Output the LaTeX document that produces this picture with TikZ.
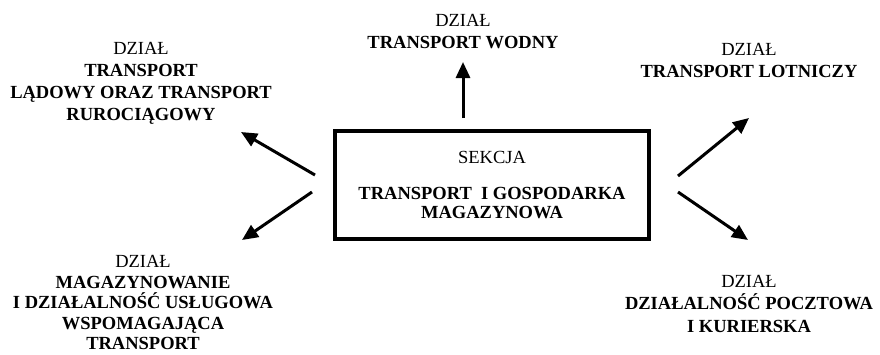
\documentclass[tikz,border=0pt]{standalone}
\usepackage{fontspec}
\setmainfont{Liberation Serif}
\usetikzlibrary{arrows.meta}

\begin{document}
\begin{tikzpicture}[
    x=1pt, y=-1pt,
    font=\fontsize{18.5}{22}\selectfont,
    sect/.style={draw=black, line width=4.5pt, minimum width=314pt,
                 minimum height=108pt, align=center, inner sep=0pt},
    dzial/.style={align=center, inner sep=0pt},
    branch/.style={-{Triangle[length=16pt,width=14pt]}, line width=3pt},
  ]
  \useasboundingbox (0,0) rectangle (880,354);

  % section in the middle
  \node[sect] (sekcja) at (492,185) {SEKCJA\\[14pt]\textbf{TRANSPORT\ \ I GOSPODARKA}\\[-3pt]\textbf{MAGAZYNOWA}};

  % divisions
  \node[dzial] (ladowy) at (141,83.5) {DZIAŁ\\\textbf{TRANSPORT}\\\textbf{LĄDOWY ORAZ TRANSPORT}\\\textbf{RUROCIĄGOWY}};
  \node[dzial] (wodny) at (463,32) {DZIAŁ\\\textbf{TRANSPORT WODNY}};
  \node[dzial] (lotniczy) at (749,60) {DZIAŁ\\\textbf{TRANSPORT LOTNICZY}};
  \node[dzial, font=\fontsize{18.5}{20.5}\selectfont] (magazyn) at (143,302.5) {DZIAŁ\\\textbf{MAGAZYNOWANIE}\\\textbf{I DZIAŁALNOŚĆ USŁUGOWA}\\\textbf{WSPOMAGAJĄCA}\\\textbf{TRANSPORT}};
  \node[dzial, font=\fontsize{18.5}{22.5}\selectfont] (poczta) at (749,303.5) {DZIAŁ\\\textbf{DZIAŁALNOŚĆ POCZTOWA}\\\textbf{I KURIERSKA}};

  % arrow ends
  \coordinate (up0) at (463,118);  \coordinate (up1) at (463,62);
  \coordinate (ul0) at (315,175);  \coordinate (ul1) at (241,132);
  \coordinate (dl0) at (312,192);  \coordinate (dl1) at (242,240);
  \coordinate (ur0) at (678,176);  \coordinate (ur1) at (749,118);
  \coordinate (dr0) at (678,192);  \coordinate (dr1) at (748,240);

  \draw[branch] (up0) -- (up1);
  \draw[branch] (ul0) -- (ul1);
  \draw[branch] (dl0) -- (dl1);
  \draw[branch] (ur0) -- (ur1);
  \draw[branch] (dr0) -- (dr1);
\end{tikzpicture}
\end{document}
